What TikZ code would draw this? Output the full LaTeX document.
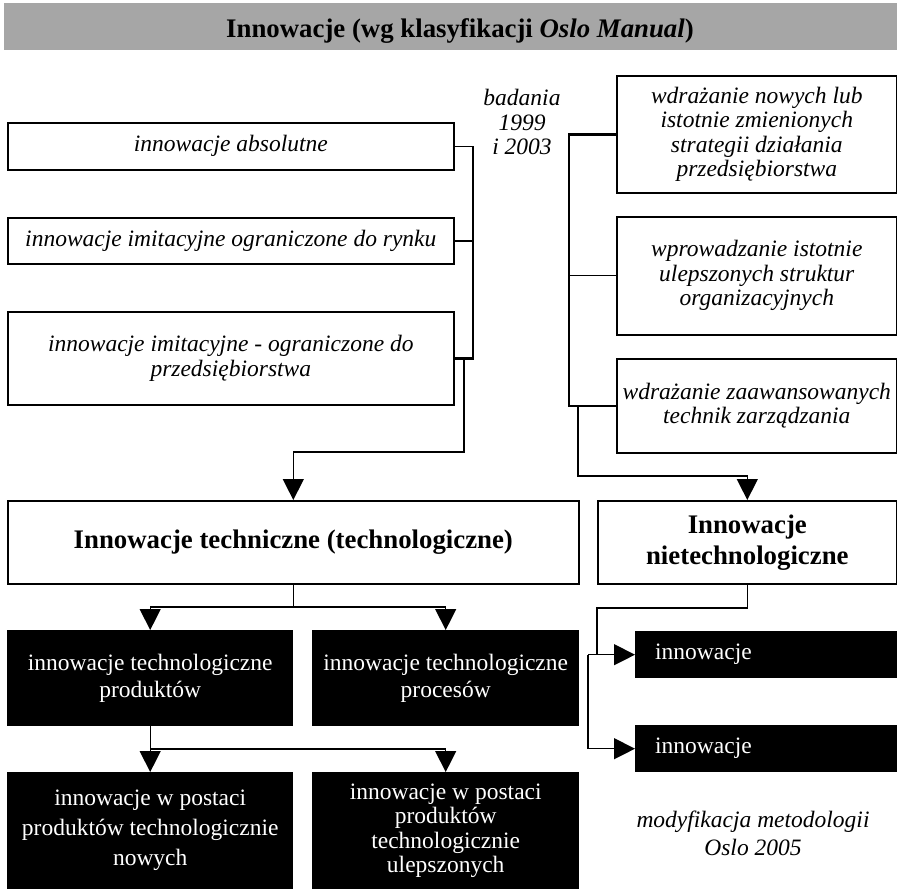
\documentclass[tikz,border=0pt]{standalone}
\usepackage{fontspec}
\setmainfont{Liberation Serif}
\usetikzlibrary{arrows.meta,calc}
\definecolor{titlegray}{RGB}{166,166,166}
\newcommand{\itf}{\fontsize{23.5bp}{24.5bp}\selectfont\itshape}
\newcommand{\rmf}{\fontsize{23.5bp}{27bp}\selectfont}
\newcommand{\bff}{\fontsize{26.8bp}{31bp}\selectfont\bfseries}
\tikzset{
  wbox/.style={draw, line width=1.6bp, anchor=north west, inner sep=0pt, align=center, font=\itf},
  bbox/.style={fill=black, text=white, anchor=north west, inner sep=0pt, align=center, font=\rmf},
  conn/.style={line width=1.3bp},
  thk/.style={line width=2.4bp},
  arr/.style={line width=1.3bp, -{Triangle[length=21bp,width=21bp]}},
}
\begin{document}
\begin{tikzpicture}[x=1bp,y=-1bp]
\useasboundingbox (0,0) rectangle (897,889);
% title
\fill[titlegray] (4,3) rectangle (897,50);
\node[font=\bff, anchor=base] (title) at (460,37) {Innowacje (wg klasyfikacji \textit{Oslo Manual})};
% left italic boxes
\node[wbox, minimum width=446bp, minimum height=47bp] (L1) at (7,122) {innowacje absolutne};
\node[wbox, minimum width=446bp, minimum height=46bp] (L2) at (7,217) {innowacje imitacyjne ograniczone do rynku};
\node[wbox, minimum width=446bp, minimum height=93bp] (L3) at (7,311) {innowacje imitacyjne - ograniczone do\\przedsiębiorstwa};
% label badania
\node[font=\itf, align=center] (bad) at (522,122) {badania\\1999\\i 2003};
% right italic boxes
\node[wbox, minimum width=280bp, minimum height=117bp] (R1) at (616,75) {wdrażanie nowych lub\\istotnie zmienionych\\strategii działania\\przedsiębiorstwa};
\node[wbox, minimum width=280bp, minimum height=118bp] (R2) at (616,216) {wprowadzanie istotnie\\ulepszonych struktur\\organizacyjnych};
\node[wbox, minimum width=280bp, minimum height=94bp] (R3) at (616,358) {wdrażanie zaawansowanych\\technik zarządzania};
% main category boxes
\node[wbox, font=\bff, minimum width=571bp, minimum height=83bp] (T) at (7,500) {Innowacje techniczne (technologiczne)};
\node[wbox, font=\bff, minimum width=299bp, minimum height=83bp] (N) at (597,500) {Innowacje\\nietechnologiczne};
% black boxes
\node[bbox, minimum width=286bp, minimum height=96bp] (B1) at (7,630) {innowacje technologiczne\\produktów};
\node[bbox, minimum width=267bp, minimum height=96bp] (B2) at (312,630) {innowacje technologiczne\\procesów};
\node[bbox, font=\fontsize{23.5bp}{30bp}\selectfont, minimum width=286bp, minimum height=117bp] (B3) at (7,772) {innowacje w postaci\\produktów technologicznie\\nowych};
\node[bbox, font=\fontsize{23.5bp}{24.5bp}\selectfont, minimum width=267bp, minimum height=117bp] (B4) at (312,772) {innowacje w postaci\\produktów\\technologicznie\\ulepszonych};
\node[bbox, align=left, text width=222bp, inner xsep=20bp, minimum height=47bp] (I1) at (635,631) {innowacje};
\node[bbox, align=left, text width=222bp, inner xsep=20bp, minimum height=47bp] (I2) at (635,725) {innowacje};
% note
\node[font=\fontsize{23.5bp}{28bp}\selectfont\itshape, align=center] (mod) at (753,833) {modyfikacja metodologii\\Oslo 2005};
% helper coordinates
\coordinate (lbus) at (473,0);
\coordinate (lbus2) at (464,0);
\coordinate (ljoin) at (0,452);
\coordinate (rbus) at (569,0);
\coordinate (rbus2) at (578,0);
\coordinate (rjoin) at (0,476);
\coordinate (nj) at (0,608);
\coordinate (ibus) at (588,0);
\coordinate (tj) at (0,607);
\coordinate (bj) at (0,749);
% left connectors
\draw[conn] (L1.east) -- (L1.east -| lbus) -- (L2.east -| lbus);
\draw[thk] (L2.east) -- (L2.east -| lbus) -- (L3.east -| lbus) -- (L3.east);
\draw[arr] (L3.east -| lbus2) -- (ljoin -| lbus2) -- (ljoin -| T.north) -- (T.north);
% right connectors
\draw[thk] (R1.west) -- (R1.west -| rbus) -- (R3.west -| rbus) -- (R3.west);
\draw[conn] (R2.west) -- (R2.west -| rbus);
\draw[arr] (R3.west -| rbus2) -- (rjoin -| rbus2) -- (rjoin -| N.north) -- (N.north);
% non-technological branch
\draw[conn] (N.south) -- (N.south |- nj) -- (nj -| N.west) -- (I1.west -| N.west);
\draw[arr] (I1.west -| ibus) -- (I1.west);
\draw[arr] (I1.west -| ibus) -- (I2.west -| ibus) -- (I2.west);
% technological branch
\draw[conn] (T.south) -- (T.south |- tj);
\draw[arr] (T.south |- tj) -- (tj -| B1.north) -- (B1.north);
\draw[arr] (T.south |- tj) -- (tj -| B2.north) -- (B2.north);
\draw[arr] (B1.south) -- (B3.north);
\draw[arr] (B1.south |- bj) -- (bj -| B4.north) -- (B4.north);
\end{tikzpicture}
\end{document}
